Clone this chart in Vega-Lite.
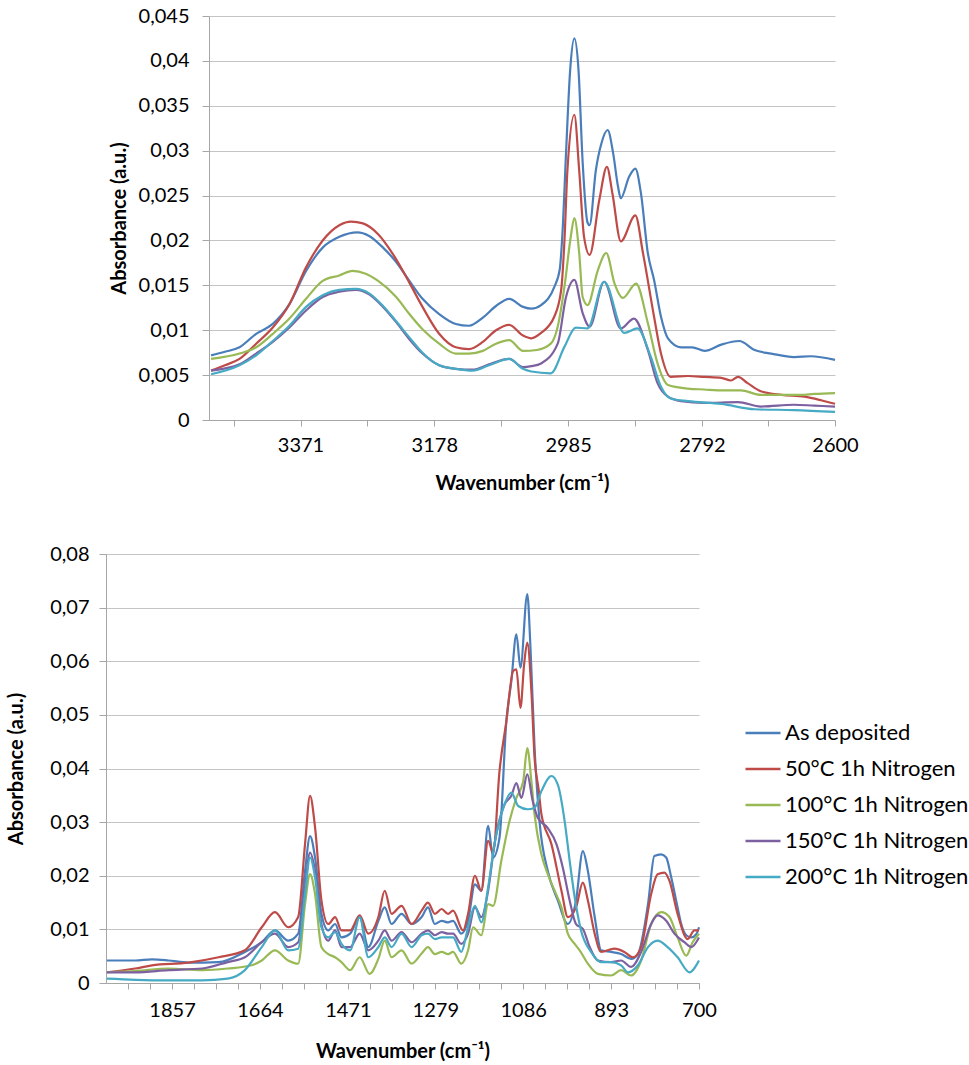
{
"$schema": "https://vega.github.io/schema/vega-lite/v6.json",
"background": "white",
"padding": {"left": 6, "top": 6, "right": 5, "bottom": 5},
"center": true,
"spacing": 51,
"config": {
  "font": "Lato",
  "view": {"stroke": null},
  "axis": {"labelFont": "Lato", "titleFont": "Lato", "labelColor": "#000000", "titleColor": "#000000", "domainColor": "#A6A6A6", "tickColor": "#A6A6A6", "gridColor": "#C4C4C4", "labelFontSize": 20, "titleFontSize": 20, "titleFontWeight": "bold"}
},
"resolve": {"legend": {"color": "independent"}, "scale": {"color": "independent"}},
"datasets": {
"top": [
{"s":"As deposited","w":3500,"a":0.0072},{"s":"As deposited","w":3480,"a":0.0076},{"s":"As deposited","w":3459,"a":0.0081},{"s":"As deposited","w":3435,"a":0.0096},{"s":"As deposited","w":3411,"a":0.0107},{"s":"As deposited","w":3387,"a":0.0129},{"s":"As deposited","w":3363,"a":0.0166},{"s":"As deposited","w":3339,"a":0.0192},{"s":"As deposited","w":3315,"a":0.0204},{"s":"As deposited","w":3289,"a":0.0209},{"s":"As deposited","w":3272,"a":0.0205},{"s":"As deposited","w":3252,"a":0.0192},{"s":"As deposited","w":3233,"a":0.0176},{"s":"As deposited","w":3214,"a":0.0155},{"s":"As deposited","w":3195,"a":0.0135},{"s":"As deposited","w":3171,"a":0.0118},{"s":"As deposited","w":3147,"a":0.0107},{"s":"As deposited","w":3128,"a":0.0105},{"s":"As deposited","w":3108,"a":0.0114},{"s":"As deposited","w":3089,"a":0.0127},{"s":"As deposited","w":3070,"a":0.0135},{"s":"As deposited","w":3050,"a":0.0126},{"s":"As deposited","w":3038,"a":0.0124},{"s":"As deposited","w":3024,"a":0.0128},{"s":"As deposited","w":3005,"a":0.0148},{"s":"As deposited","w":2997,"a":0.0168},{"s":"As deposited","w":2993,"a":0.021},{"s":"As deposited","w":2988,"a":0.0297},{"s":"As deposited","w":2982,"a":0.039},{"s":"As deposited","w":2976,"a":0.0425},{"s":"As deposited","w":2970,"a":0.039},{"s":"As deposited","w":2964,"a":0.0287},{"s":"As deposited","w":2957,"a":0.022},{"s":"As deposited","w":2954,"a":0.0217},{"s":"As deposited","w":2945,"a":0.0278},{"s":"As deposited","w":2937,"a":0.0308},{"s":"As deposited","w":2928,"a":0.0323},{"s":"As deposited","w":2920,"a":0.0297},{"s":"As deposited","w":2913,"a":0.026},{"s":"As deposited","w":2909,"a":0.0247},{"s":"As deposited","w":2897,"a":0.0271},{"s":"As deposited","w":2888,"a":0.028},{"s":"As deposited","w":2880,"a":0.0253},{"s":"As deposited","w":2870,"a":0.0186},{"s":"As deposited","w":2861,"a":0.0156},{"s":"As deposited","w":2851,"a":0.0115},{"s":"As deposited","w":2841,"a":0.0091},{"s":"As deposited","w":2822,"a":0.0081},{"s":"As deposited","w":2806,"a":0.0081},{"s":"As deposited","w":2788,"a":0.0077},{"s":"As deposited","w":2764,"a":0.0084},{"s":"As deposited","w":2738,"a":0.0088},{"s":"As deposited","w":2716,"a":0.0078},{"s":"As deposited","w":2692,"a":0.0074},{"s":"As deposited","w":2659,"a":0.007},{"s":"As deposited","w":2635,"a":0.0071},{"s":"As deposited","w":2600,"a":0.0067},
{"s":"50°C 1h Nitrogen","w":3500,"a":0.0055},{"s":"50°C 1h Nitrogen","w":3480,"a":0.0061},{"s":"50°C 1h Nitrogen","w":3459,"a":0.0068},{"s":"50°C 1h Nitrogen","w":3435,"a":0.0085},{"s":"50°C 1h Nitrogen","w":3411,"a":0.0103},{"s":"50°C 1h Nitrogen","w":3387,"a":0.0129},{"s":"50°C 1h Nitrogen","w":3363,"a":0.017},{"s":"50°C 1h Nitrogen","w":3339,"a":0.02},{"s":"50°C 1h Nitrogen","w":3315,"a":0.0217},{"s":"50°C 1h Nitrogen","w":3298,"a":0.0221},{"s":"50°C 1h Nitrogen","w":3281,"a":0.0219},{"s":"50°C 1h Nitrogen","w":3259,"a":0.0207},{"s":"50°C 1h Nitrogen","w":3233,"a":0.0179},{"s":"50°C 1h Nitrogen","w":3214,"a":0.0153},{"s":"50°C 1h Nitrogen","w":3195,"a":0.0126},{"s":"50°C 1h Nitrogen","w":3171,"a":0.0096},{"s":"50°C 1h Nitrogen","w":3147,"a":0.0081},{"s":"50°C 1h Nitrogen","w":3128,"a":0.0079},{"s":"50°C 1h Nitrogen","w":3108,"a":0.0087},{"s":"50°C 1h Nitrogen","w":3089,"a":0.01},{"s":"50°C 1h Nitrogen","w":3070,"a":0.0106},{"s":"50°C 1h Nitrogen","w":3050,"a":0.0094},{"s":"50°C 1h Nitrogen","w":3038,"a":0.0091},{"s":"50°C 1h Nitrogen","w":3024,"a":0.0097},{"s":"50°C 1h Nitrogen","w":3005,"a":0.0115},{"s":"50°C 1h Nitrogen","w":2995,"a":0.0145},{"s":"50°C 1h Nitrogen","w":2990,"a":0.0204},{"s":"50°C 1h Nitrogen","w":2986,"a":0.0278},{"s":"50°C 1h Nitrogen","w":2976,"a":0.034},{"s":"50°C 1h Nitrogen","w":2969,"a":0.0278},{"s":"50°C 1h Nitrogen","w":2962,"a":0.0204},{"s":"50°C 1h Nitrogen","w":2954,"a":0.0184},{"s":"50°C 1h Nitrogen","w":2940,"a":0.0245},{"s":"50°C 1h Nitrogen","w":2929,"a":0.0282},{"s":"50°C 1h Nitrogen","w":2921,"a":0.0252},{"s":"50°C 1h Nitrogen","w":2909,"a":0.0199},{"s":"50°C 1h Nitrogen","w":2888,"a":0.0228},{"s":"50°C 1h Nitrogen","w":2877,"a":0.0186},{"s":"50°C 1h Nitrogen","w":2861,"a":0.0115},{"s":"50°C 1h Nitrogen","w":2851,"a":0.0074},{"s":"50°C 1h Nitrogen","w":2837,"a":0.0048},{"s":"50°C 1h Nitrogen","w":2812,"a":0.0049},{"s":"50°C 1h Nitrogen","w":2788,"a":0.0048},{"s":"50°C 1h Nitrogen","w":2764,"a":0.0047},{"s":"50°C 1h Nitrogen","w":2750,"a":0.0044},{"s":"50°C 1h Nitrogen","w":2740,"a":0.0048},{"s":"50°C 1h Nitrogen","w":2726,"a":0.0041},{"s":"50°C 1h Nitrogen","w":2707,"a":0.0032},{"s":"50°C 1h Nitrogen","w":2677,"a":0.0028},{"s":"50°C 1h Nitrogen","w":2644,"a":0.0026},{"s":"50°C 1h Nitrogen","w":2620,"a":0.0022},{"s":"50°C 1h Nitrogen","w":2600,"a":0.0018},
{"s":"100°C 1h Nitrogen","w":3500,"a":0.0068},{"s":"100°C 1h Nitrogen","w":3459,"a":0.0074},{"s":"100°C 1h Nitrogen","w":3435,"a":0.0081},{"s":"100°C 1h Nitrogen","w":3411,"a":0.0096},{"s":"100°C 1h Nitrogen","w":3387,"a":0.0113},{"s":"100°C 1h Nitrogen","w":3363,"a":0.0135},{"s":"100°C 1h Nitrogen","w":3339,"a":0.0155},{"s":"100°C 1h Nitrogen","w":3315,"a":0.0161},{"s":"100°C 1h Nitrogen","w":3296,"a":0.0166},{"s":"100°C 1h Nitrogen","w":3277,"a":0.0163},{"s":"100°C 1h Nitrogen","w":3259,"a":0.0155},{"s":"100°C 1h Nitrogen","w":3233,"a":0.0137},{"s":"100°C 1h Nitrogen","w":3214,"a":0.0118},{"s":"100°C 1h Nitrogen","w":3195,"a":0.0101},{"s":"100°C 1h Nitrogen","w":3171,"a":0.0085},{"s":"100°C 1h Nitrogen","w":3147,"a":0.0074},{"s":"100°C 1h Nitrogen","w":3128,"a":0.0074},{"s":"100°C 1h Nitrogen","w":3108,"a":0.0077},{"s":"100°C 1h Nitrogen","w":3089,"a":0.0085},{"s":"100°C 1h Nitrogen","w":3070,"a":0.0089},{"s":"100°C 1h Nitrogen","w":3050,"a":0.0077},{"s":"100°C 1h Nitrogen","w":3030,"a":0.0078},{"s":"100°C 1h Nitrogen","w":3010,"a":0.0085},{"s":"100°C 1h Nitrogen","w":3000,"a":0.0104},{"s":"100°C 1h Nitrogen","w":2990,"a":0.015},{"s":"100°C 1h Nitrogen","w":2981,"a":0.0205},{"s":"100°C 1h Nitrogen","w":2976,"a":0.0225},{"s":"100°C 1h Nitrogen","w":2969,"a":0.0186},{"s":"100°C 1h Nitrogen","w":2964,"a":0.0137},{"s":"100°C 1h Nitrogen","w":2957,"a":0.0128},{"s":"100°C 1h Nitrogen","w":2942,"a":0.0167},{"s":"100°C 1h Nitrogen","w":2930,"a":0.0186},{"s":"100°C 1h Nitrogen","w":2918,"a":0.0152},{"s":"100°C 1h Nitrogen","w":2906,"a":0.0136},{"s":"100°C 1h Nitrogen","w":2887,"a":0.0152},{"s":"100°C 1h Nitrogen","w":2870,"a":0.0108},{"s":"100°C 1h Nitrogen","w":2856,"a":0.0063},{"s":"100°C 1h Nitrogen","w":2841,"a":0.0039},{"s":"100°C 1h Nitrogen","w":2812,"a":0.0035},{"s":"100°C 1h Nitrogen","w":2789,"a":0.0034},{"s":"100°C 1h Nitrogen","w":2760,"a":0.0033},{"s":"100°C 1h Nitrogen","w":2736,"a":0.0033},{"s":"100°C 1h Nitrogen","w":2707,"a":0.0028},{"s":"100°C 1h Nitrogen","w":2650,"a":0.0028},{"s":"100°C 1h Nitrogen","w":2630,"a":0.0029},{"s":"100°C 1h Nitrogen","w":2600,"a":0.003},
{"s":"150°C 1h Nitrogen","w":3500,"a":0.0055},{"s":"150°C 1h Nitrogen","w":3459,"a":0.0062},{"s":"150°C 1h Nitrogen","w":3435,"a":0.0074},{"s":"150°C 1h Nitrogen","w":3411,"a":0.0087},{"s":"150°C 1h Nitrogen","w":3387,"a":0.0103},{"s":"150°C 1h Nitrogen","w":3363,"a":0.0122},{"s":"150°C 1h Nitrogen","w":3339,"a":0.0137},{"s":"150°C 1h Nitrogen","w":3315,"a":0.0143},{"s":"150°C 1h Nitrogen","w":3291,"a":0.0145},{"s":"150°C 1h Nitrogen","w":3272,"a":0.014},{"s":"150°C 1h Nitrogen","w":3252,"a":0.0126},{"s":"150°C 1h Nitrogen","w":3233,"a":0.0109},{"s":"150°C 1h Nitrogen","w":3214,"a":0.009},{"s":"150°C 1h Nitrogen","w":3195,"a":0.0074},{"s":"150°C 1h Nitrogen","w":3171,"a":0.0061},{"s":"150°C 1h Nitrogen","w":3147,"a":0.0057},{"s":"150°C 1h Nitrogen","w":3123,"a":0.0056},{"s":"150°C 1h Nitrogen","w":3099,"a":0.0062},{"s":"150°C 1h Nitrogen","w":3070,"a":0.0068},{"s":"150°C 1h Nitrogen","w":3050,"a":0.0059},{"s":"150°C 1h Nitrogen","w":3038,"a":0.006},{"s":"150°C 1h Nitrogen","w":3024,"a":0.0063},{"s":"150°C 1h Nitrogen","w":3000,"a":0.0085},{"s":"150°C 1h Nitrogen","w":2988,"a":0.0137},{"s":"150°C 1h Nitrogen","w":2976,"a":0.0156},{"s":"150°C 1h Nitrogen","w":2964,"a":0.0119},{"s":"150°C 1h Nitrogen","w":2954,"a":0.0104},{"s":"150°C 1h Nitrogen","w":2933,"a":0.0154},{"s":"150°C 1h Nitrogen","w":2909,"a":0.0102},{"s":"150°C 1h Nitrogen","w":2890,"a":0.0113},{"s":"150°C 1h Nitrogen","w":2870,"a":0.0078},{"s":"150°C 1h Nitrogen","w":2856,"a":0.0041},{"s":"150°C 1h Nitrogen","w":2841,"a":0.0026},{"s":"150°C 1h Nitrogen","w":2822,"a":0.0021},{"s":"150°C 1h Nitrogen","w":2788,"a":0.0019},{"s":"150°C 1h Nitrogen","w":2740,"a":0.002},{"s":"150°C 1h Nitrogen","w":2707,"a":0.0015},{"s":"150°C 1h Nitrogen","w":2659,"a":0.0017},{"s":"150°C 1h Nitrogen","w":2630,"a":0.0016},{"s":"150°C 1h Nitrogen","w":2600,"a":0.0015},
{"s":"200°C 1h Nitrogen","w":3500,"a":0.0051},{"s":"200°C 1h Nitrogen","w":3459,"a":0.0061},{"s":"200°C 1h Nitrogen","w":3435,"a":0.0072},{"s":"200°C 1h Nitrogen","w":3411,"a":0.0088},{"s":"200°C 1h Nitrogen","w":3387,"a":0.0105},{"s":"200°C 1h Nitrogen","w":3363,"a":0.0126},{"s":"200°C 1h Nitrogen","w":3339,"a":0.0139},{"s":"200°C 1h Nitrogen","w":3315,"a":0.0145},{"s":"200°C 1h Nitrogen","w":3291,"a":0.0146},{"s":"200°C 1h Nitrogen","w":3272,"a":0.0141},{"s":"200°C 1h Nitrogen","w":3252,"a":0.0127},{"s":"200°C 1h Nitrogen","w":3233,"a":0.011},{"s":"200°C 1h Nitrogen","w":3214,"a":0.0092},{"s":"200°C 1h Nitrogen","w":3195,"a":0.0075},{"s":"200°C 1h Nitrogen","w":3171,"a":0.0061},{"s":"200°C 1h Nitrogen","w":3147,"a":0.0057},{"s":"200°C 1h Nitrogen","w":3123,"a":0.0055},{"s":"200°C 1h Nitrogen","w":3099,"a":0.0061},{"s":"200°C 1h Nitrogen","w":3070,"a":0.0068},{"s":"200°C 1h Nitrogen","w":3050,"a":0.0057},{"s":"200°C 1h Nitrogen","w":3038,"a":0.0054},{"s":"200°C 1h Nitrogen","w":3010,"a":0.0052},{"s":"200°C 1h Nitrogen","w":2990,"a":0.0082},{"s":"200°C 1h Nitrogen","w":2974,"a":0.0103},{"s":"200°C 1h Nitrogen","w":2957,"a":0.0102},{"s":"200°C 1h Nitrogen","w":2933,"a":0.0154},{"s":"200°C 1h Nitrogen","w":2904,"a":0.0097},{"s":"200°C 1h Nitrogen","w":2885,"a":0.0102},{"s":"200°C 1h Nitrogen","w":2866,"a":0.0071},{"s":"200°C 1h Nitrogen","w":2851,"a":0.0037},{"s":"200°C 1h Nitrogen","w":2837,"a":0.0024},{"s":"200°C 1h Nitrogen","w":2812,"a":0.0021},{"s":"200°C 1h Nitrogen","w":2764,"a":0.0018},{"s":"200°C 1h Nitrogen","w":2716,"a":0.0012},{"s":"200°C 1h Nitrogen","w":2659,"a":0.0011},{"s":"200°C 1h Nitrogen","w":2600,"a":0.0009}
],
"bottom": [
{"s":"As deposited","w":2000,"a":0.0042},{"s":"As deposited","w":1965,"a":0.0042},{"s":"As deposited","w":1938,"a":0.0042},{"s":"As deposited","w":1901,"a":0.0044},{"s":"As deposited","w":1865,"a":0.0042},{"s":"As deposited","w":1821,"a":0.0038},{"s":"As deposited","w":1755,"a":0.0039},{"s":"As deposited","w":1697,"a":0.0058},{"s":"As deposited","w":1660,"a":0.0076},{"s":"As deposited","w":1631,"a":0.0098},{"s":"As deposited","w":1602,"a":0.0079},{"s":"As deposited","w":1580,"a":0.0092},{"s":"As deposited","w":1565,"a":0.0209},{"s":"As deposited","w":1554,"a":0.0274},{"s":"As deposited","w":1543,"a":0.0234},{"s":"As deposited","w":1529,"a":0.0129},{"s":"As deposited","w":1514,"a":0.0098},{"s":"As deposited","w":1499,"a":0.011},{"s":"As deposited","w":1485,"a":0.0085},{"s":"As deposited","w":1466,"a":0.0092},{"s":"As deposited","w":1445,"a":0.0123},{"s":"As deposited","w":1426,"a":0.0067},{"s":"As deposited","w":1404,"a":0.0116},{"s":"As deposited","w":1390,"a":0.0141},{"s":"As deposited","w":1375,"a":0.011},{"s":"As deposited","w":1353,"a":0.0129},{"s":"As deposited","w":1331,"a":0.011},{"s":"As deposited","w":1309,"a":0.0123},{"s":"As deposited","w":1295,"a":0.0141},{"s":"As deposited","w":1280,"a":0.011},{"s":"As deposited","w":1265,"a":0.0116},{"s":"As deposited","w":1251,"a":0.0113},{"s":"As deposited","w":1240,"a":0.0116},{"s":"As deposited","w":1222,"a":0.0092},{"s":"As deposited","w":1207,"a":0.0116},{"s":"As deposited","w":1192,"a":0.0184},{"s":"As deposited","w":1178,"a":0.0172},{"s":"As deposited","w":1163,"a":0.0293},{"s":"As deposited","w":1152,"a":0.0234},{"s":"As deposited","w":1138,"a":0.0271},{"s":"As deposited","w":1123,"a":0.0488},{"s":"As deposited","w":1112,"a":0.0563},{"s":"As deposited","w":1101,"a":0.065},{"s":"As deposited","w":1092,"a":0.0588},{"s":"As deposited","w":1077,"a":0.0725},{"s":"As deposited","w":1070,"a":0.0625},{"s":"As deposited","w":1061,"a":0.0438},{"s":"As deposited","w":1050,"a":0.03},{"s":"As deposited","w":1032,"a":0.0209},{"s":"As deposited","w":1010,"a":0.0154},{"s":"As deposited","w":988,"a":0.011},{"s":"As deposited","w":970,"a":0.0154},{"s":"As deposited","w":955,"a":0.0246},{"s":"As deposited","w":944,"a":0.0209},{"s":"As deposited","w":929,"a":0.0123},{"s":"As deposited","w":915,"a":0.0061},{"s":"As deposited","w":893,"a":0.0058},{"s":"As deposited","w":871,"a":0.0054},{"s":"As deposited","w":849,"a":0.0045},{"s":"As deposited","w":834,"a":0.0054},{"s":"As deposited","w":812,"a":0.0147},{"s":"As deposited","w":798,"a":0.0237},{"s":"As deposited","w":783,"a":0.024},{"s":"As deposited","w":772,"a":0.0234},{"s":"As deposited","w":761,"a":0.0197},{"s":"As deposited","w":747,"a":0.0141},{"s":"As deposited","w":739,"a":0.011},{"s":"As deposited","w":728,"a":0.0089},{"s":"As deposited","w":717,"a":0.0085},{"s":"As deposited","w":706,"a":0.0091},{"s":"As deposited","w":700,"a":0.0104},
{"s":"50°C 1h Nitrogen","w":2000,"a":0.002},{"s":"50°C 1h Nitrogen","w":1938,"a":0.0027},{"s":"50°C 1h Nitrogen","w":1901,"a":0.0033},{"s":"50°C 1h Nitrogen","w":1821,"a":0.0038},{"s":"50°C 1h Nitrogen","w":1755,"a":0.0048},{"s":"50°C 1h Nitrogen","w":1697,"a":0.0061},{"s":"50°C 1h Nitrogen","w":1660,"a":0.0104},{"s":"50°C 1h Nitrogen","w":1631,"a":0.0132},{"s":"50°C 1h Nitrogen","w":1602,"a":0.0104},{"s":"50°C 1h Nitrogen","w":1580,"a":0.0123},{"s":"50°C 1h Nitrogen","w":1565,"a":0.0259},{"s":"50°C 1h Nitrogen","w":1554,"a":0.0349},{"s":"50°C 1h Nitrogen","w":1543,"a":0.029},{"s":"50°C 1h Nitrogen","w":1529,"a":0.0154},{"s":"50°C 1h Nitrogen","w":1514,"a":0.011},{"s":"50°C 1h Nitrogen","w":1499,"a":0.0123},{"s":"50°C 1h Nitrogen","w":1485,"a":0.0098},{"s":"50°C 1h Nitrogen","w":1466,"a":0.0098},{"s":"50°C 1h Nitrogen","w":1445,"a":0.0126},{"s":"50°C 1h Nitrogen","w":1426,"a":0.0092},{"s":"50°C 1h Nitrogen","w":1404,"a":0.0123},{"s":"50°C 1h Nitrogen","w":1390,"a":0.0172},{"s":"50°C 1h Nitrogen","w":1375,"a":0.0129},{"s":"50°C 1h Nitrogen","w":1353,"a":0.0144},{"s":"50°C 1h Nitrogen","w":1331,"a":0.011},{"s":"50°C 1h Nitrogen","w":1309,"a":0.0135},{"s":"50°C 1h Nitrogen","w":1295,"a":0.015},{"s":"50°C 1h Nitrogen","w":1280,"a":0.0129},{"s":"50°C 1h Nitrogen","w":1265,"a":0.0138},{"s":"50°C 1h Nitrogen","w":1251,"a":0.0129},{"s":"50°C 1h Nitrogen","w":1240,"a":0.0135},{"s":"50°C 1h Nitrogen","w":1218,"a":0.0098},{"s":"50°C 1h Nitrogen","w":1207,"a":0.0129},{"s":"50°C 1h Nitrogen","w":1192,"a":0.02},{"s":"50°C 1h Nitrogen","w":1178,"a":0.0172},{"s":"50°C 1h Nitrogen","w":1163,"a":0.0265},{"s":"50°C 1h Nitrogen","w":1152,"a":0.0243},{"s":"50°C 1h Nitrogen","w":1138,"a":0.0395},{"s":"50°C 1h Nitrogen","w":1123,"a":0.0488},{"s":"50°C 1h Nitrogen","w":1108,"a":0.0582},{"s":"50°C 1h Nitrogen","w":1101,"a":0.0585},{"s":"50°C 1h Nitrogen","w":1092,"a":0.0513},{"s":"50°C 1h Nitrogen","w":1084,"a":0.0594},{"s":"50°C 1h Nitrogen","w":1077,"a":0.0635},{"s":"50°C 1h Nitrogen","w":1068,"a":0.0544},{"s":"50°C 1h Nitrogen","w":1061,"a":0.042},{"s":"50°C 1h Nitrogen","w":1052,"a":0.036},{"s":"50°C 1h Nitrogen","w":1046,"a":0.0315},{"s":"50°C 1h Nitrogen","w":1024,"a":0.0259},{"s":"50°C 1h Nitrogen","w":1002,"a":0.0172},{"s":"50°C 1h Nitrogen","w":988,"a":0.0123},{"s":"50°C 1h Nitrogen","w":970,"a":0.0141},{"s":"50°C 1h Nitrogen","w":955,"a":0.0187},{"s":"50°C 1h Nitrogen","w":944,"a":0.0154},{"s":"50°C 1h Nitrogen","w":929,"a":0.0092},{"s":"50°C 1h Nitrogen","w":915,"a":0.0058},{"s":"50°C 1h Nitrogen","w":886,"a":0.0064},{"s":"50°C 1h Nitrogen","w":864,"a":0.0058},{"s":"50°C 1h Nitrogen","w":845,"a":0.0048},{"s":"50°C 1h Nitrogen","w":827,"a":0.0067},{"s":"50°C 1h Nitrogen","w":805,"a":0.0166},{"s":"50°C 1h Nitrogen","w":791,"a":0.0203},{"s":"50°C 1h Nitrogen","w":776,"a":0.0206},{"s":"50°C 1h Nitrogen","w":765,"a":0.0191},{"s":"50°C 1h Nitrogen","w":747,"a":0.0129},{"s":"50°C 1h Nitrogen","w":725,"a":0.0082},{"s":"50°C 1h Nitrogen","w":710,"a":0.0098},{"s":"50°C 1h Nitrogen","w":700,"a":0.0098},
{"s":"100°C 1h Nitrogen","w":2000,"a":0.002},{"s":"100°C 1h Nitrogen","w":1938,"a":0.0022},{"s":"100°C 1h Nitrogen","w":1865,"a":0.0027},{"s":"100°C 1h Nitrogen","w":1791,"a":0.0024},{"s":"100°C 1h Nitrogen","w":1735,"a":0.0027},{"s":"100°C 1h Nitrogen","w":1682,"a":0.0033},{"s":"100°C 1h Nitrogen","w":1660,"a":0.0042},{"s":"100°C 1h Nitrogen","w":1631,"a":0.0061},{"s":"100°C 1h Nitrogen","w":1602,"a":0.0042},{"s":"100°C 1h Nitrogen","w":1580,"a":0.0036},{"s":"100°C 1h Nitrogen","w":1565,"a":0.0147},{"s":"100°C 1h Nitrogen","w":1554,"a":0.0203},{"s":"100°C 1h Nitrogen","w":1543,"a":0.0166},{"s":"100°C 1h Nitrogen","w":1529,"a":0.0067},{"s":"100°C 1h Nitrogen","w":1514,"a":0.0054},{"s":"100°C 1h Nitrogen","w":1499,"a":0.0048},{"s":"100°C 1h Nitrogen","w":1485,"a":0.0039},{"s":"100°C 1h Nitrogen","w":1466,"a":0.0024},{"s":"100°C 1h Nitrogen","w":1445,"a":0.0048},{"s":"100°C 1h Nitrogen","w":1423,"a":0.0017},{"s":"100°C 1h Nitrogen","w":1404,"a":0.0045},{"s":"100°C 1h Nitrogen","w":1390,"a":0.0079},{"s":"100°C 1h Nitrogen","w":1375,"a":0.0048},{"s":"100°C 1h Nitrogen","w":1353,"a":0.0061},{"s":"100°C 1h Nitrogen","w":1331,"a":0.0036},{"s":"100°C 1h Nitrogen","w":1309,"a":0.0055},{"s":"100°C 1h Nitrogen","w":1295,"a":0.0067},{"s":"100°C 1h Nitrogen","w":1280,"a":0.0054},{"s":"100°C 1h Nitrogen","w":1265,"a":0.0058},{"s":"100°C 1h Nitrogen","w":1251,"a":0.0054},{"s":"100°C 1h Nitrogen","w":1240,"a":0.0058},{"s":"100°C 1h Nitrogen","w":1222,"a":0.0036},{"s":"100°C 1h Nitrogen","w":1207,"a":0.0061},{"s":"100°C 1h Nitrogen","w":1196,"a":0.0104},{"s":"100°C 1h Nitrogen","w":1178,"a":0.0089},{"s":"100°C 1h Nitrogen","w":1163,"a":0.0147},{"s":"100°C 1h Nitrogen","w":1152,"a":0.0144},{"s":"100°C 1h Nitrogen","w":1134,"a":0.0228},{"s":"100°C 1h Nitrogen","w":1116,"a":0.0302},{"s":"100°C 1h Nitrogen","w":1101,"a":0.0345},{"s":"100°C 1h Nitrogen","w":1086,"a":0.0376},{"s":"100°C 1h Nitrogen","w":1077,"a":0.0438},{"s":"100°C 1h Nitrogen","w":1068,"a":0.0376},{"s":"100°C 1h Nitrogen","w":1061,"a":0.0314},{"s":"100°C 1h Nitrogen","w":1046,"a":0.024},{"s":"100°C 1h Nitrogen","w":1032,"a":0.0203},{"s":"100°C 1h Nitrogen","w":1017,"a":0.0172},{"s":"100°C 1h Nitrogen","w":1002,"a":0.0141},{"s":"100°C 1h Nitrogen","w":988,"a":0.0092},{"s":"100°C 1h Nitrogen","w":973,"a":0.0073},{"s":"100°C 1h Nitrogen","w":962,"a":0.0061},{"s":"100°C 1h Nitrogen","w":944,"a":0.0036},{"s":"100°C 1h Nitrogen","w":922,"a":0.0017},{"s":"100°C 1h Nitrogen","w":893,"a":0.0014},{"s":"100°C 1h Nitrogen","w":871,"a":0.0024},{"s":"100°C 1h Nitrogen","w":849,"a":0.0014},{"s":"100°C 1h Nitrogen","w":827,"a":0.0042},{"s":"100°C 1h Nitrogen","w":805,"a":0.011},{"s":"100°C 1h Nitrogen","w":783,"a":0.0132},{"s":"100°C 1h Nitrogen","w":765,"a":0.0123},{"s":"100°C 1h Nitrogen","w":747,"a":0.0085},{"s":"100°C 1h Nitrogen","w":728,"a":0.0051},{"s":"100°C 1h Nitrogen","w":714,"a":0.0076},{"s":"100°C 1h Nitrogen","w":700,"a":0.0092},
{"s":"150°C 1h Nitrogen","w":2000,"a":0.002},{"s":"150°C 1h Nitrogen","w":1938,"a":0.002},{"s":"150°C 1h Nitrogen","w":1865,"a":0.0024},{"s":"150°C 1h Nitrogen","w":1791,"a":0.0027},{"s":"150°C 1h Nitrogen","w":1735,"a":0.0039},{"s":"150°C 1h Nitrogen","w":1697,"a":0.0048},{"s":"150°C 1h Nitrogen","w":1660,"a":0.0076},{"s":"150°C 1h Nitrogen","w":1631,"a":0.0092},{"s":"150°C 1h Nitrogen","w":1602,"a":0.0067},{"s":"150°C 1h Nitrogen","w":1580,"a":0.0076},{"s":"150°C 1h Nitrogen","w":1565,"a":0.0178},{"s":"150°C 1h Nitrogen","w":1554,"a":0.0243},{"s":"150°C 1h Nitrogen","w":1543,"a":0.0209},{"s":"150°C 1h Nitrogen","w":1529,"a":0.011},{"s":"150°C 1h Nitrogen","w":1514,"a":0.0079},{"s":"150°C 1h Nitrogen","w":1499,"a":0.0098},{"s":"150°C 1h Nitrogen","w":1485,"a":0.0067},{"s":"150°C 1h Nitrogen","w":1466,"a":0.0067},{"s":"150°C 1h Nitrogen","w":1445,"a":0.0092},{"s":"150°C 1h Nitrogen","w":1426,"a":0.0061},{"s":"150°C 1h Nitrogen","w":1404,"a":0.0079},{"s":"150°C 1h Nitrogen","w":1390,"a":0.0098},{"s":"150°C 1h Nitrogen","w":1375,"a":0.0079},{"s":"150°C 1h Nitrogen","w":1353,"a":0.0095},{"s":"150°C 1h Nitrogen","w":1331,"a":0.0076},{"s":"150°C 1h Nitrogen","w":1309,"a":0.0092},{"s":"150°C 1h Nitrogen","w":1295,"a":0.0098},{"s":"150°C 1h Nitrogen","w":1280,"a":0.0089},{"s":"150°C 1h Nitrogen","w":1265,"a":0.0095},{"s":"150°C 1h Nitrogen","w":1251,"a":0.0092},{"s":"150°C 1h Nitrogen","w":1240,"a":0.0092},{"s":"150°C 1h Nitrogen","w":1222,"a":0.0073},{"s":"150°C 1h Nitrogen","w":1207,"a":0.0092},{"s":"150°C 1h Nitrogen","w":1192,"a":0.0141},{"s":"150°C 1h Nitrogen","w":1178,"a":0.0123},{"s":"150°C 1h Nitrogen","w":1163,"a":0.0172},{"s":"150°C 1h Nitrogen","w":1149,"a":0.0259},{"s":"150°C 1h Nitrogen","w":1127,"a":0.0333},{"s":"150°C 1h Nitrogen","w":1112,"a":0.0349},{"s":"150°C 1h Nitrogen","w":1101,"a":0.0373},{"s":"150°C 1h Nitrogen","w":1090,"a":0.0345},{"s":"150°C 1h Nitrogen","w":1077,"a":0.0389},{"s":"150°C 1h Nitrogen","w":1065,"a":0.0339},{"s":"150°C 1h Nitrogen","w":1054,"a":0.0308},{"s":"150°C 1h Nitrogen","w":1032,"a":0.0289},{"s":"150°C 1h Nitrogen","w":1013,"a":0.0259},{"s":"150°C 1h Nitrogen","w":999,"a":0.0215},{"s":"150°C 1h Nitrogen","w":984,"a":0.0154},{"s":"150°C 1h Nitrogen","w":970,"a":0.011},{"s":"150°C 1h Nitrogen","w":955,"a":0.0101},{"s":"150°C 1h Nitrogen","w":940,"a":0.0067},{"s":"150°C 1h Nitrogen","w":922,"a":0.0042},{"s":"150°C 1h Nitrogen","w":893,"a":0.0039},{"s":"150°C 1h Nitrogen","w":871,"a":0.0042},{"s":"150°C 1h Nitrogen","w":849,"a":0.003},{"s":"150°C 1h Nitrogen","w":827,"a":0.0058},{"s":"150°C 1h Nitrogen","w":805,"a":0.011},{"s":"150°C 1h Nitrogen","w":791,"a":0.0126},{"s":"150°C 1h Nitrogen","w":772,"a":0.0116},{"s":"150°C 1h Nitrogen","w":754,"a":0.0092},{"s":"150°C 1h Nitrogen","w":732,"a":0.0076},{"s":"150°C 1h Nitrogen","w":717,"a":0.0067},{"s":"150°C 1h Nitrogen","w":700,"a":0.0085},
{"s":"200°C 1h Nitrogen","w":2000,"a":0.0008},{"s":"200°C 1h Nitrogen","w":1938,"a":0.0006},{"s":"200°C 1h Nitrogen","w":1865,"a":0.0005},{"s":"200°C 1h Nitrogen","w":1791,"a":0.0005},{"s":"200°C 1h Nitrogen","w":1735,"a":0.0008},{"s":"200°C 1h Nitrogen","w":1697,"a":0.0024},{"s":"200°C 1h Nitrogen","w":1660,"a":0.0067},{"s":"200°C 1h Nitrogen","w":1631,"a":0.0098},{"s":"200°C 1h Nitrogen","w":1602,"a":0.0061},{"s":"200°C 1h Nitrogen","w":1580,"a":0.0064},{"s":"200°C 1h Nitrogen","w":1565,"a":0.0166},{"s":"200°C 1h Nitrogen","w":1554,"a":0.0234},{"s":"200°C 1h Nitrogen","w":1543,"a":0.0197},{"s":"200°C 1h Nitrogen","w":1529,"a":0.0104},{"s":"200°C 1h Nitrogen","w":1514,"a":0.0085},{"s":"200°C 1h Nitrogen","w":1499,"a":0.0095},{"s":"200°C 1h Nitrogen","w":1485,"a":0.0073},{"s":"200°C 1h Nitrogen","w":1466,"a":0.0061},{"s":"200°C 1h Nitrogen","w":1445,"a":0.0123},{"s":"200°C 1h Nitrogen","w":1426,"a":0.0048},{"s":"200°C 1h Nitrogen","w":1404,"a":0.0067},{"s":"200°C 1h Nitrogen","w":1390,"a":0.0085},{"s":"200°C 1h Nitrogen","w":1375,"a":0.0067},{"s":"200°C 1h Nitrogen","w":1353,"a":0.0092},{"s":"200°C 1h Nitrogen","w":1331,"a":0.0067},{"s":"200°C 1h Nitrogen","w":1309,"a":0.0089},{"s":"200°C 1h Nitrogen","w":1295,"a":0.0092},{"s":"200°C 1h Nitrogen","w":1280,"a":0.0082},{"s":"200°C 1h Nitrogen","w":1265,"a":0.0085},{"s":"200°C 1h Nitrogen","w":1251,"a":0.0085},{"s":"200°C 1h Nitrogen","w":1240,"a":0.0085},{"s":"200°C 1h Nitrogen","w":1222,"a":0.0058},{"s":"200°C 1h Nitrogen","w":1207,"a":0.0104},{"s":"200°C 1h Nitrogen","w":1192,"a":0.0144},{"s":"200°C 1h Nitrogen","w":1178,"a":0.0113},{"s":"200°C 1h Nitrogen","w":1163,"a":0.0178},{"s":"200°C 1h Nitrogen","w":1149,"a":0.0259},{"s":"200°C 1h Nitrogen","w":1127,"a":0.0333},{"s":"200°C 1h Nitrogen","w":1112,"a":0.0355},{"s":"200°C 1h Nitrogen","w":1097,"a":0.033},{"s":"200°C 1h Nitrogen","w":1076,"a":0.0324},{"s":"200°C 1h Nitrogen","w":1061,"a":0.0327},{"s":"200°C 1h Nitrogen","w":1046,"a":0.0358},{"s":"200°C 1h Nitrogen","w":1024,"a":0.0386},{"s":"200°C 1h Nitrogen","w":1010,"a":0.037},{"s":"200°C 1h Nitrogen","w":995,"a":0.0302},{"s":"200°C 1h Nitrogen","w":984,"a":0.0228},{"s":"200°C 1h Nitrogen","w":973,"a":0.016},{"s":"200°C 1h Nitrogen","w":959,"a":0.0098},{"s":"200°C 1h Nitrogen","w":937,"a":0.0058},{"s":"200°C 1h Nitrogen","w":915,"a":0.0039},{"s":"200°C 1h Nitrogen","w":893,"a":0.0039},{"s":"200°C 1h Nitrogen","w":871,"a":0.0033},{"s":"200°C 1h Nitrogen","w":856,"a":0.002},{"s":"200°C 1h Nitrogen","w":834,"a":0.0033},{"s":"200°C 1h Nitrogen","w":812,"a":0.0067},{"s":"200°C 1h Nitrogen","w":791,"a":0.0079},{"s":"200°C 1h Nitrogen","w":769,"a":0.0067},{"s":"200°C 1h Nitrogen","w":747,"a":0.0048},{"s":"200°C 1h Nitrogen","w":721,"a":0.002},{"s":"200°C 1h Nitrogen","w":700,"a":0.0042}
]
},
"vconcat": [
{
  "width": 626,
  "height": 404,
  "data": {"name": "top"},
  "resolve": {"scale": {"y": "shared"}, "axis": {"y": "independent"}},
  "layer": [
  {
  "mark": {"type": "line", "strokeWidth": 2.2, "interpolate": "monotone"},
  "encoding": {
    "x": {"field": "w", "type": "quantitative",
      "scale": {"domain": [2600, 3503], "reverse": true, "nice": false, "zero": false},
      "axis": {"title": "Wavenumber (cm⁻¹)", "grid": false, "tickSize": 6, "labelPadding": 9, "titlePadding": 18, "labelOverlap": false, "labelFlush": false,
        "values": [2600, 2648, 2696, 2744, 2792, 2840.25, 2888.5, 2936.75, 2985, 3033.25, 3081.5, 3129.75, 3178, 3226.25, 3274.5, 3322.75, 3371, 3419.25, 3467.5],
        "labelExpr": "(datum.value == 3371 || datum.value == 3178 || datum.value == 2985 || datum.value == 2792 || datum.value == 2600) ? toString(datum.value) : ''"}},
    "y": {"field": "a", "type": "quantitative",
      "scale": {"domain": [0, 0.045], "nice": false},
      "axis": {"title": "Absorbance (a.u.)", "values": [0, 0.005, 0.01, 0.015, 0.02, 0.025, 0.03, 0.035, 0.04, 0.045], "tickSize": 7, "labelPadding": 13, "titlePadding": 9,
        "labelExpr": "replace(format(datum.value, '~g'), '.', ',')"}},
    "color": {"field": "s", "type": "nominal",
      "scale": {"domain": ["As deposited", "50°C 1h Nitrogen", "100°C 1h Nitrogen", "150°C 1h Nitrogen", "200°C 1h Nitrogen"], "range": ["#4A7EBB", "#BE4B48", "#98B954", "#7D60A0", "#46AAC5"]},
      "legend": null}
  }
  },
  {
  "mark": {"type": "line", "opacity": 0},
  "encoding": {
    "x": {"field": "w", "type": "quantitative"},
    "y": {"field": "a", "type": "quantitative",
      "axis": {"orient": "right", "title": null, "labels": false, "ticks": false, "domain": false, "grid": false, "minExtent": 31}},
    "detail": {"field": "s"}
  }
  }
  ]
},
{
  "width": 593,
  "height": 429,
  "data": {"name": "bottom"},
  "mark": {"type": "line", "strokeWidth": 2.2, "interpolate": "monotone"},
  "encoding": {
    "x": {"field": "w", "type": "quantitative",
      "scale": {"domain": [700, 2002], "reverse": true, "nice": false, "zero": false},
      "axis": {"title": "Wavenumber (cm⁻¹)", "grid": false, "tickSize": 6, "labelPadding": 11, "titlePadding": 21, "labelOverlap": false, "labelFlush": false,
        "values": [700, 748.25, 796.5, 844.75, 893, 941.25, 989.5, 1037.75, 1086, 1134.25, 1182.5, 1230.75, 1279, 1327, 1375, 1423, 1471, 1519.25, 1567.5, 1615.75, 1664, 1712.25, 1760.5, 1808.75, 1857, 1905.25, 1953.5],
        "labelExpr": "(datum.value == 700 || datum.value == 893 || datum.value == 1086 || datum.value == 1279 || datum.value == 1471 || datum.value == 1664 || datum.value == 1857) ? toString(datum.value) : ''"}},
    "y": {"field": "a", "type": "quantitative",
      "scale": {"domain": [0, 0.08], "nice": false},
      "axis": {"title": "Absorbance (a.u.)", "values": [0, 0.01, 0.02, 0.03, 0.04, 0.05, 0.06, 0.07, 0.08], "tickSize": 7, "labelPadding": 10, "titlePadding": 23,
        "labelExpr": "replace(format(datum.value, '~g'), '.', ',')"}},
    "color": {"field": "s", "type": "nominal",
      "scale": {"domain": ["As deposited", "50°C 1h Nitrogen", "100°C 1h Nitrogen", "150°C 1h Nitrogen", "200°C 1h Nitrogen"], "range": ["#4A7EBB", "#BE4B48", "#98B954", "#7D60A0", "#46AAC5"]},
      "legend": {"title": null, "orient": "none", "legendX": 638, "legendY": 160, "symbolType": "stroke", "symbolSize": 1225, "symbolStrokeWidth": 2.5, "labelFont": "Lato", "labelFontSize": 22, "labelColor": "#000000", "labelOffset": 3, "rowPadding": 6, "labelLimit": 400}}
  }
}
]
}
